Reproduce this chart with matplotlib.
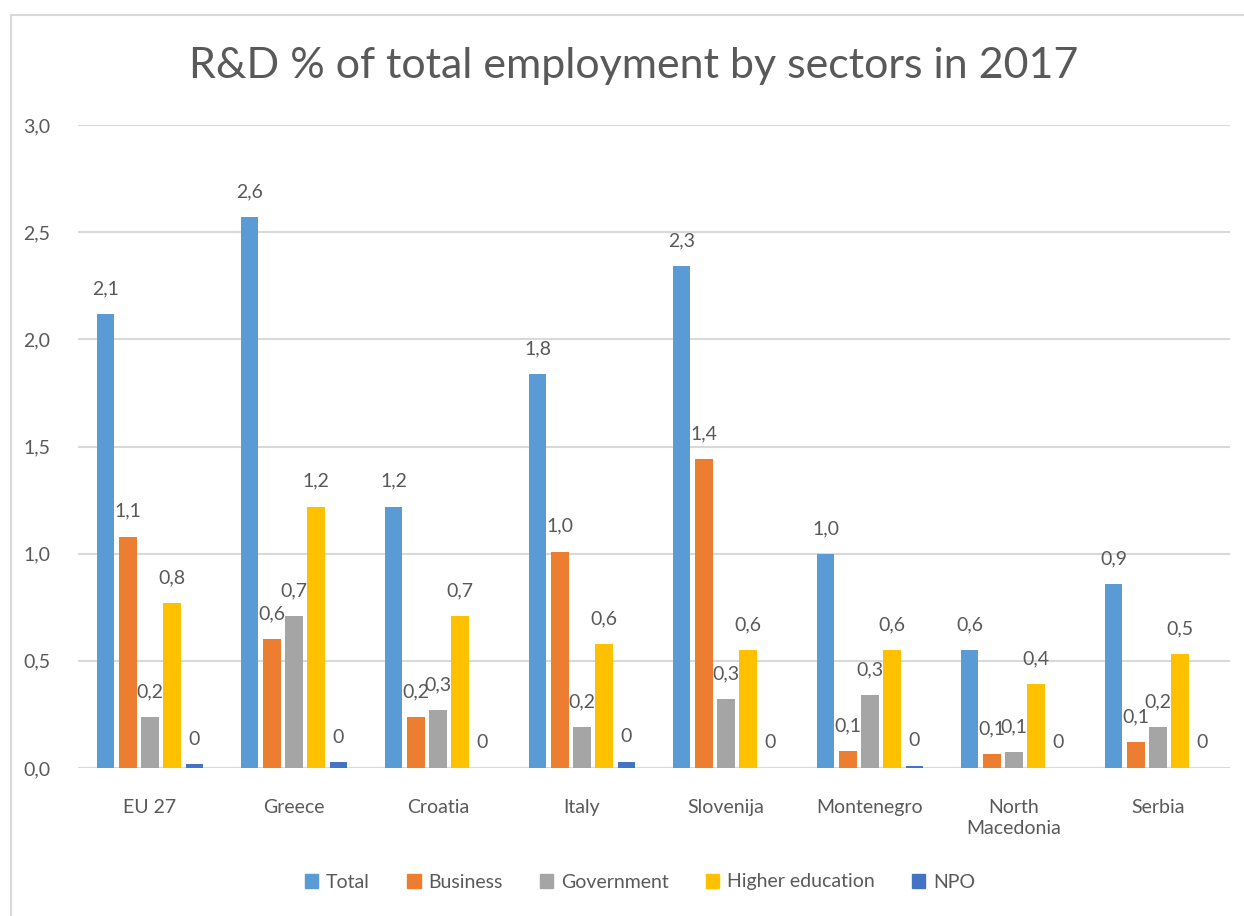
import matplotlib.pyplot as plt
from matplotlib.patches import Rectangle, Patch
import numpy as np

plt.rcParams['font.family'] = ['Lato', 'DejaVu Sans']

countries = ['EU 27', 'Greece', 'Croatia', 'Italy', 'Slovenija',
             'Montenegro', 'North\nMacedonia', 'Serbia']
sectors = ['Total', 'Business', 'Government', 'Higher education', 'NPO']

total = [2.12, 2.57, 1.22, 1.84, 2.34, 1.00, 0.552, 0.86]
business = [1.08, 0.60, 0.24, 1.01, 1.44, 0.08, 0.065, 0.12]
government = [0.24, 0.71, 0.27, 0.19, 0.32, 0.34, 0.075, 0.19]
higher_edu = [0.77, 1.22, 0.71, 0.58, 0.552, 0.552, 0.39, 0.53]
npo = [0.017, 0.026, 0.0, 0.03, 0.0, 0.01, 0.0, 0.0]

colors = ['#5B9BD5', '#ED7D31', '#A5A5A5', '#FFC000', '#4472C4']
text_col = '#595959'
grid_col = '#D9D9D9'

W, H = 1244, 916
fig = plt.figure(figsize=(W / 100, H / 100), dpi=100)

# light frame around the chart area
fig.patches.append(Rectangle((11 / W, -0.01), 1.0, (H - 15) / H + 0.01,
                             transform=fig.transFigure, fill=False,
                             edgecolor=grid_col, lw=1.5))

ax = fig.add_axes([78 / W, (H - 768) / H, (1230 - 78) / W, (768 - 125) / H])

series = [total, business, government, higher_edu, npo]
x = np.arange(len(countries))
step = 0.154
width = 0.122
for j, vals in enumerate(series):
    pos = x + (j - 2) * step
    ax.bar(pos, vals, width=width, color=colors[j], zorder=3)
    for xi, v in zip(pos, vals):
        if j == 4:
            lab = '%.0f' % v
        else:
            lab = ('%.1f' % v).replace('.', ',')
        ax.annotate(lab, (xi, v), xytext=(0, 12), textcoords='offset points',
                    ha='center', va='bottom', fontsize=14, color=text_col)

ax.set_xlim(-0.5, len(countries) - 0.5)
ax.set_ylim(0, 3.0)
yt = np.arange(0, 3.01, 0.5)
ax.set_yticks(yt)
ax.set_yticklabels([('%.1f' % t).replace('.', ',') for t in yt])
ax.set_xticks(x)
ax.set_xticklabels(countries, linespacing=1.3)
ax.tick_params(axis='both', length=0, labelsize=14, labelcolor=text_col)
ax.tick_params(axis='y', pad=20)
ax.tick_params(axis='x', pad=22)
for sp in ax.spines.values():
    sp.set_visible(False)
ax.yaxis.grid(True, color=grid_col, lw=1.5, zorder=0)
ax.set_axisbelow(True)

fig.text(634 / W, (H - 66) / H, 'R&D % of total employment by sectors in 2017',
         ha='center', va='center', fontsize=31, color=text_col)

handles = [Patch(color=c) for c in colors]
fig.legend(handles, sectors, loc='center', bbox_to_anchor=(640 / W, (H - 882) / H),
           ncol=5, frameon=False, fontsize=14, labelcolor=text_col,
           handlelength=0.7, handleheight=0.7, handletextpad=0.4,
           columnspacing=1.9)

fig.savefig('out.png', dpi=100)
